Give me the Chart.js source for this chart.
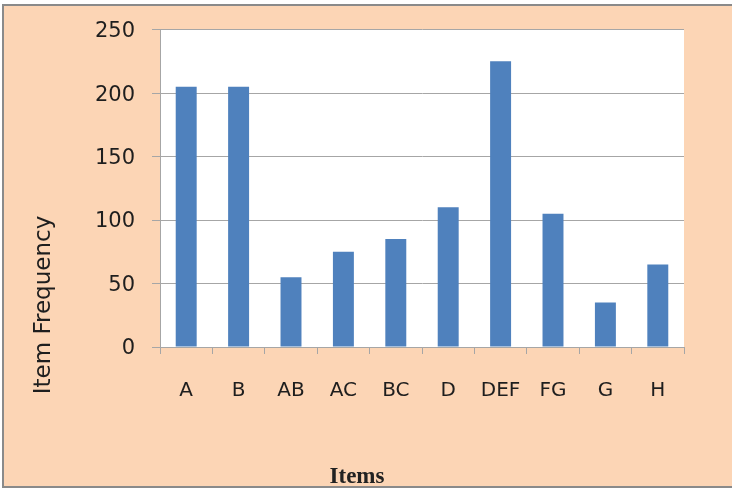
<!DOCTYPE html>
<html>
<head>
<meta charset="utf-8">
<script src="https://cdn.jsdelivr.net/npm/chart.js@4"></script>
<style>
  html, body { margin: 0; padding: 0; background: #ffffff; }
  #wrap { position: relative; width: 732px; height: 489px; }
</style>
</head>
<body>
<div id="wrap"><canvas id="c" width="732" height="489"></canvas></div>
<script>
const categories = ['A', 'B', 'AB', 'AC', 'BC', 'D', 'DEF', 'FG', 'G', 'H'];
const frequencies = [205, 205, 55, 75, 85, 110, 225, 105, 35, 65];
const yTicks = [0, 50, 100, 150, 200, 250];
const xTitle = 'Items';
const yTitle = 'Item Frequency';

const PEACH = '#FCD5B5';
const GRID = '#A6A6A6';
const TEXT = '#1e1e1e';

const framePlugin = {
  id: 'frame',
  beforeDraw(chart) {
    const ctx = chart.ctx;
    const a = chart.chartArea;
    ctx.save();
    ctx.fillStyle = '#ffffff';
    ctx.fillRect(0, 0, chart.width, chart.height);
    ctx.fillStyle = PEACH;
    ctx.fillRect(3, 5, chart.width - 3, chart.height - 7);
    ctx.strokeStyle = '#8a8a8a';
    ctx.lineWidth = 2;
    ctx.beginPath();
    ctx.moveTo(chart.width + 2, 5);
    ctx.lineTo(3, 5);
    ctx.lineTo(3, chart.height - 2);
    ctx.lineTo(chart.width + 2, chart.height - 2);
    ctx.stroke();
    ctx.fillStyle = '#ffffff';
    ctx.fillRect(a.left, a.top, a.right - a.left, a.bottom - a.top);
    ctx.restore();
  },
  afterDraw(chart) {
    const ctx = chart.ctx;
    ctx.save();
    ctx.fillStyle = '#222222';
    ctx.font = 'bold 23px "Liberation Serif", "Times New Roman", serif';
    ctx.textAlign = 'center';
    ctx.textBaseline = 'alphabetic';
    ctx.fillText(xTitle, 357, 483);
    ctx.translate(44, 305);
    ctx.rotate(-Math.PI / 2);
    ctx.font = '23px "DejaVu Sans", sans-serif';
    ctx.fillStyle = TEXT;
    ctx.textBaseline = 'middle';
    ctx.fillText(yTitle, 0, 0);
    ctx.restore();
  }
};

new Chart(document.getElementById('c'), {
  type: 'bar',
  data: {
    labels: categories,
    datasets: [{
      data: frequencies,
      backgroundColor: '#4F81BD',
      borderWidth: 0,
      barPercentage: 0.4,
      categoryPercentage: 1.0
    }]
  },
  plugins: [framePlugin],
  options: {
    responsive: false,
    animation: false,
    devicePixelRatio: 1,
    layout: { padding: { left: 0, right: 48, top: 29, bottom: 0 } },
    plugins: { legend: { display: false }, tooltip: { enabled: false } },
    scales: {
      x: {
        afterFit(scale) { scale.height = 142; },
        grid: {
          offset: true,
          drawOnChartArea: false,
          drawTicks: true,
          tickLength: 7,
          color: GRID,
          lineWidth: 1
        },
        border: { display: true, color: GRID, width: 1 },
        ticks: {
          color: TEXT,
          padding: 25,
          font: { family: '"DejaVu Sans", sans-serif', size: 20 }
        }
      },
      y: {
        min: yTicks[0],
        max: yTicks[yTicks.length - 1],
        afterFit(scale) { scale.width = 160; },
        afterBuildTicks(scale) { scale.ticks = yTicks.map(v => ({ value: v })); },
        grid: {
          color: GRID,
          lineWidth: 1,
          drawTicks: true,
          tickLength: 8
        },
        border: { display: true, color: GRID, width: 1 },
        ticks: {
          color: TEXT,
          padding: 17,
          labelOffset: 2,
          font: { family: '"DejaVu Sans", sans-serif', size: 21 }
        }
      }
    }
  }
});
</script>
</body>
</html>
